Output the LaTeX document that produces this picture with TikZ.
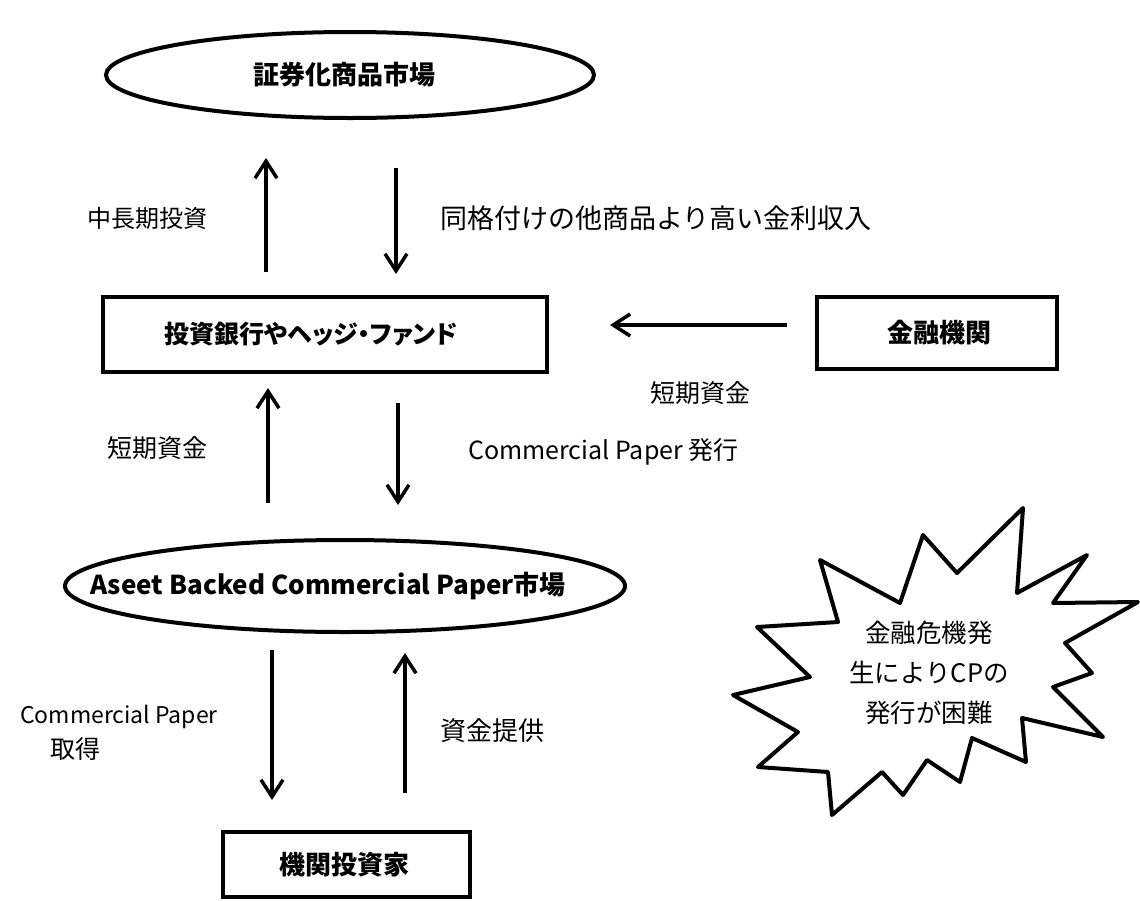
\documentclass[tikz,border=0pt]{standalone}
\usepackage{fontspec}
\setmainfont{Noto Sans CJK JP}
\newfontfamily\jpalt[RawFeature=+palt]{Noto Sans CJK JP}
\usetikzlibrary{shapes.geometric,arrows.meta}
\tikzset{
  lbl/.style={font=\fontsize{25pt}{30pt}\selectfont, inner sep=0pt},
  ttl/.style={font=\fontsize{26pt}{30pt}\selectfont\bfseries, inner sep=0pt},
  oval/.style={ellipse, draw, line width=4pt, inner sep=0pt, fill=white},
  box/.style={rectangle, draw, line width=4pt, inner sep=0pt, fill=white},
  flow/.style={line width=3.5pt, -{Straight Barb[length=17pt,width=22pt,line width=3.5pt]}}
}
\begin{document}
\begin{tikzpicture}[x=1pt,y=-1pt]
\useasboundingbox (0,0) rectangle (1140,900);
\fill[white] (0,0) rectangle (1140,900);

% nodes
\node[oval, minimum width=488pt, minimum height=86pt] (mkt) at (350,75) {};
\node[ttl] (mkttxt) at (344,75) {証券化商品市場};

\node[box, minimum width=444pt, minimum height=75pt] (ib) at (325,334.5) {};
\node[ttl, font=\fontsize{25pt}{30pt}\selectfont\bfseries] (ibtxt) at (311,334.5) {\jpalt\bfseries 投資銀行やヘッジ・ファンド};

\node[box, minimum width=240pt, minimum height=72pt] (fi) at (937,333) {};
\node[ttl] (fitxt) at (939,333) {金融機関};

\node[oval, minimum width=560pt, minimum height=92pt] (abcp) at (345,586) {};
\node[ttl] (abcptxt) at (328,586) {Aseet Backed Commercial Paper市場};

\node[box, minimum width=247pt, minimum height=65pt] (inv) at (346.5,864.5) {};
\node[ttl] (invtxt) at (344,864.5) {機関投資家};

% arrow end points
\coordinate (a1s) at (266,272); \coordinate (a1e) at (266,158);
\coordinate (a2s) at (396,168); \coordinate (a2e) at (396,274);
\coordinate (a3s) at (787,325); \coordinate (a3e) at (610,325);
\coordinate (a4s) at (268,503); \coordinate (a4e) at (268,388);
\coordinate (a5s) at (398,403); \coordinate (a5e) at (398,505);
\coordinate (a6s) at (272,650); \coordinate (a6e) at (272,800);
\coordinate (a7s) at (405,793); \coordinate (a7e) at (405,653);

\draw[flow] (a1s) -- (a1e);
\draw[flow] (a2s) -- (a2e);
\draw[flow] (a3s) -- (a3e);
\draw[flow] (a4s) -- (a4e);
\draw[flow] (a5s) -- (a5e);
\draw[flow] (a6s) -- (a6e);
\draw[flow] (a7s) -- (a7e);

% labels
\node[lbl, font=\fontsize{24pt}{30pt}\selectfont] (l1) at (147,218) {中長期投資};
\node[lbl, anchor=west, font=\fontsize{27pt}{30pt}\selectfont] (l2) at (440,218) {同格付けの他商品より高い金利収入};
\node[lbl] (l3) at (700,393) {短期資金};
\node[lbl] (l4) at (157,448) {短期資金};
\node[lbl, anchor=west] (l5) at (468,452) {Commercial Paper 発行};
\node[lbl, anchor=west, font=\fontsize{23pt}{30pt}\selectfont] (l6) at (20,717) {Commercial Paper};
\node[lbl, anchor=west] (l7) at (50,749) {取得};
\node[lbl, font=\fontsize{26pt}{30pt}\selectfont] (l8) at (492,731) {資金提供};

% starburst
\draw[line width=4pt, line join=round, fill=white]
  (1023,508) -- (1017,593) -- (1087,555) -- (1053,603) -- (1138,602) --
  (1065,643) -- (1092,673) -- (1053,687) -- (1103,737) -- (1022,718) --
  (1026,762) -- (972,738) -- (960,782) -- (927,760) -- (903,795) --
  (882,772) -- (832,815) -- (828,772) -- (758,767) -- (798,732) --
  (733,695) -- (810,677) -- (757,627) -- (838,622) -- (820,560) --
  (900,603) -- (923,535) -- (957,573) -- cycle;
\node[lbl, align=center, font=\fontsize{25.5pt}{40pt}\selectfont] (burst) at (929,673) {金融危機発\\生によりCPの\\発行が困難};
\end{tikzpicture}
\end{document}
